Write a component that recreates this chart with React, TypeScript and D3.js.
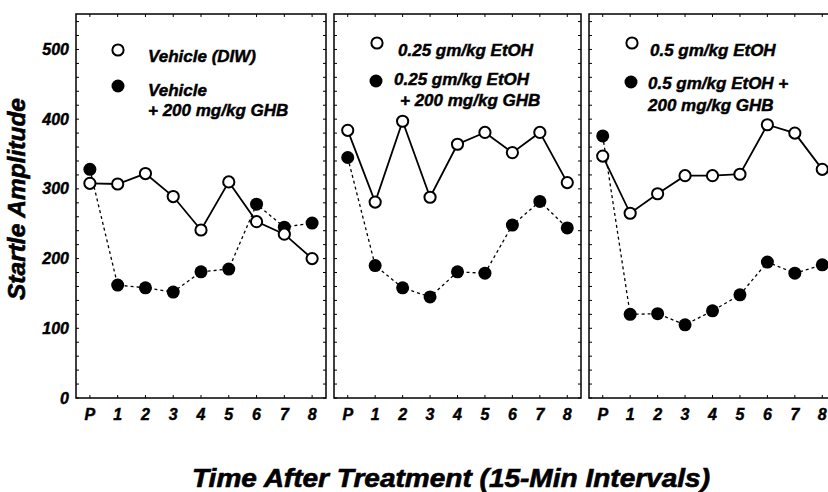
import React from "react";
import * as d3 from "d3";

// Time points: pre-treatment (P) followed by eight 15-min intervals
const timeLabels = ["P", "1", "2", "3", "4", "5", "6", "7", "8"];

// Startle amplitude, panel 1
const vehicle = [308, 307, 322, 289, 241, 310, 253, 235, 200];
const vehicleGhb = [328, 162, 158, 152, 181, 185, 278, 245, 251];

// Startle amplitude, panel 2
const etoh025 = [384, 281, 397, 288, 364, 381, 352, 381, 309];
const etoh025Ghb = [345, 190, 158, 145, 181, 179, 248, 282, 244];

// Startle amplitude, panel 3
const etoh05 = [347, 265, 293, 319, 319, 321, 392, 380, 328];
const etoh05Ghb = [376, 120, 121, 105, 125, 148, 195, 179, 191];

const yTicks = [0, 100, 200, 300, 400, 500];
const yMinorTicks = d3.range(0, 551, 20);

const FONT = "'Liberation Sans', Arial, Helvetica, sans-serif";

// heavy bold-italic text style used throughout
const textStyle = {
  fontFamily: FONT,
  fontWeight: "bold" as const,
  fontStyle: "italic" as const,
  stroke: "#000",
  strokeWidth: 0.45,
};

type LegendLine = { text: string; dx: number; dy: number };
type PanelDef = {
  x0: number;
  x1: number;
  open: number[];
  filled: number[];
  openLegend: { cx: number; cy: number; lines: LegendLine[] };
  filledLegend: { cx: number; cy: number; lines: LegendLine[] };
};

const panels: PanelDef[] = [
  {
    x0: 76,
    x1: 326,
    open: vehicle,
    filled: vehicleGhb,
    openLegend: { cx: 118, cy: 50, lines: [{ text: "Vehicle (DIW)", dx: 30, dy: 12 }] },
    filledLegend: {
      cx: 118,
      cy: 86,
      lines: [
        { text: "Vehicle", dx: 30, dy: 10 },
        { text: "+ 200 mg/kg GHB", dx: 30, dy: 30 },
      ],
    },
  },
  {
    x0: 334,
    x1: 581,
    open: etoh025,
    filled: etoh025Ghb,
    openLegend: { cx: 377, cy: 43, lines: [{ text: "0.25 gm/kg EtOH", dx: 21, dy: 13 }] },
    filledLegend: {
      cx: 376,
      cy: 81,
      lines: [
        { text: "0.25 gm/kg EtOH", dx: 18, dy: 4 },
        { text: "+ 200 mg/kg GHB", dx: 24, dy: 25 },
      ],
    },
  },
  {
    x0: 589,
    x1: 836,
    open: etoh05,
    filled: etoh05Ghb,
    openLegend: { cx: 632, cy: 43, lines: [{ text: "0.5 gm/kg EtOH", dx: 18, dy: 13 }] },
    filledLegend: {
      cx: 631,
      cy: 82,
      lines: [
        { text: "0.5 gm/kg EtOH +", dx: 17, dy: 7 },
        { text: "200 mg/kg GHB", dx: 17, dy: 29 },
      ],
    },
  },
];

const TOP = 14;
const BOTTOM = 398;

const y = d3.scaleLinear().domain([0, 550]).range([BOTTOM, TOP + 0.6]);

function Panel({ p, first }: { p: PanelDef; first: boolean }) {
  const x = d3.scalePoint<string>().domain(timeLabels).range([p.x0, p.x1]).padding(0.5);
  const line = d3
    .line<number>()
    .x((_, i) => x(timeLabels[i]) as number)
    .y((d) => y(d));
  const r = 6.5;
  return (
    <g>
      {/* frame */}
      <rect
        x={p.x0}
        y={TOP}
        width={p.x1 - p.x0}
        height={BOTTOM - TOP}
        fill="none"
        stroke="#000"
        strokeWidth={1.5}
      />
      {/* inward ticks on left/right edges */}
      {yMinorTicks.map((t) => (
        <g key={"yt" + t}>
          <line x1={p.x0} x2={p.x0 + 3} y1={y(t)} y2={y(t)} stroke="#000" strokeWidth={1} />
          <line x1={p.x1} x2={p.x1 - 3} y1={y(t)} y2={y(t)} stroke="#000" strokeWidth={1} />
        </g>
      ))}
      {/* inward ticks on top/bottom edges, with time labels */}
      {timeLabels.map((l) => (
        <g key={"xt" + l}>
          <line x1={x(l)} x2={x(l)} y1={BOTTOM} y2={BOTTOM - 3} stroke="#000" strokeWidth={1} />
          <line x1={x(l)} x2={x(l)} y1={TOP} y2={TOP + 3} stroke="#000" strokeWidth={1} />
          <text x={x(l)} y={420} textAnchor="middle" fontSize={16} style={textStyle}>
            {l}
          </text>
        </g>
      ))}
      {first &&
        yTicks.map((t) => (
          <text key={"yl" + t} x={p.x0 - 7} y={y(t) + 5.5} textAnchor="end" fontSize={16} style={textStyle}>
            {t}
          </text>
        ))}
      {/* series lines */}
      <path d={line(p.filled) || ""} fill="none" stroke="#000" strokeWidth={1.3} strokeDasharray="3,3" />
      <path d={line(p.open) || ""} fill="none" stroke="#000" strokeWidth={1.8} />
      {/* markers */}
      {p.filled.map((v, i) => (
        <circle key={"f" + i} cx={x(timeLabels[i])} cy={y(v)} r={r} fill="#000" />
      ))}
      {p.open.map((v, i) => (
        <circle key={"o" + i} cx={x(timeLabels[i])} cy={y(v)} r={r - 0.9} fill="#fff" stroke="#000" strokeWidth={2} />
      ))}
      {/* legend */}
      <circle cx={p.openLegend.cx} cy={p.openLegend.cy} r={r - 0.9} fill="#fff" stroke="#000" strokeWidth={2} />
      {p.openLegend.lines.map((ln, i) => (
        <text key={"ol" + i} x={p.openLegend.cx + ln.dx} y={p.openLegend.cy + ln.dy} fontSize={17} style={textStyle}>
          {ln.text}
        </text>
      ))}
      <circle cx={p.filledLegend.cx} cy={p.filledLegend.cy} r={r} fill="#000" />
      {p.filledLegend.lines.map((ln, i) => (
        <text key={"fl" + i} x={p.filledLegend.cx + ln.dx} y={p.filledLegend.cy + ln.dy} fontSize={17} style={textStyle}>
          {ln.text}
        </text>
      ))}
    </g>
  );
}

export default function App() {
  return (
    <svg width={828} height={492} style={{ position: "absolute", left: 0, top: 0, background: "#fff" }}>
      <rect width={828} height={492} fill="#fff" />
      {panels.map((p, i) => (
        <Panel key={i} p={p} first={i === 0} />
      ))}
      <text
        transform="translate(25,199) rotate(-90)"
        textAnchor="middle"
        fontSize={23}
        textLength={202}
        lengthAdjust="spacingAndGlyphs"
        style={{ ...textStyle, strokeWidth: 0.6 }}
      >
        Startle Amplitude
      </text>
      <text
        x={451}
        y={487}
        textAnchor="middle"
        fontSize={25}
        textLength={518}
        lengthAdjust="spacingAndGlyphs"
        style={{ ...textStyle, strokeWidth: 0.6 }}
      >
        Time After Treatment (15-Min Intervals)
      </text>
    </svg>
  );
}
